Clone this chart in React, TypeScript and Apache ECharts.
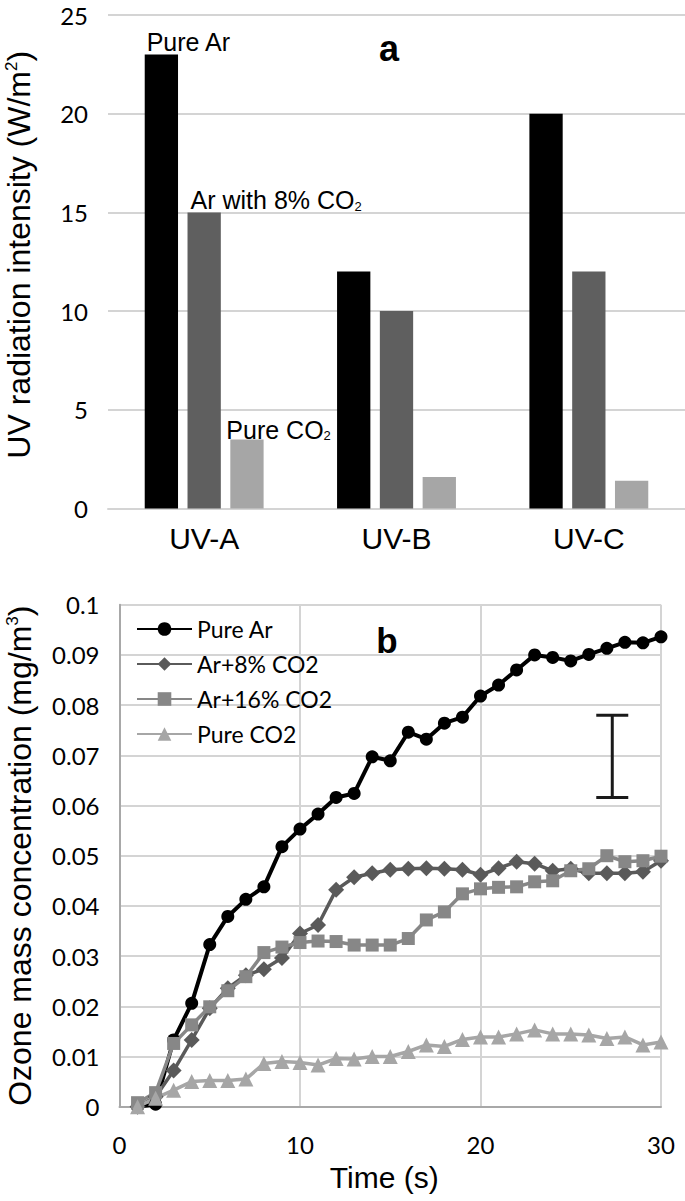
import React, { useEffect, useRef } from "react";
import * as echarts from "echarts";

// ---------- Panel a: UV radiation intensity ----------
const uvCategories = ["UV-A", "UV-B", "UV-C"];
const uvPureAr = [23, 12, 20];
const uvAr8CO2 = [15, 10, 12];
const uvPureCO2 = [3.5, 1.6, 1.4];

// ---------- Panel b: ozone mass concentration ----------
const times = [1, 2, 3, 4, 5, 6, 7, 8, 9, 10, 11, 12, 13, 14, 15, 16, 17, 18, 19, 20, 21, 22, 23, 24, 25, 26, 27, 28, 29, 30];
const ozPureAr = [0, 0.0005, 0.0133, 0.0206, 0.0323, 0.0379, 0.0413, 0.0438, 0.0518, 0.0553, 0.0583, 0.0616, 0.0624, 0.0697, 0.0689, 0.0746, 0.0732, 0.0764, 0.0776, 0.0818, 0.084, 0.087, 0.09, 0.0895, 0.0888, 0.0901, 0.0913, 0.0925, 0.0924, 0.0936];
const ozAr8CO2 = [0, 0.002, 0.0072, 0.0133, 0.0196, 0.0236, 0.0262, 0.0274, 0.0296, 0.0345, 0.0362, 0.0432, 0.0457, 0.0465, 0.0472, 0.0474, 0.0475, 0.0474, 0.0472, 0.0462, 0.0475, 0.0488, 0.0484, 0.047, 0.0474, 0.0465, 0.0465, 0.0465, 0.0468, 0.049];
const ozAr16CO2 = [0.0008, 0.0028, 0.0126, 0.0163, 0.0199, 0.0231, 0.0259, 0.0307, 0.0318, 0.0327, 0.033, 0.0329, 0.0322, 0.0322, 0.0322, 0.0335, 0.0372, 0.0388, 0.0424, 0.0434, 0.0437, 0.0438, 0.0448, 0.045, 0.047, 0.0474, 0.05, 0.0488, 0.049, 0.0499];
const ozPureCO2 = [0, 0.0017, 0.0033, 0.005, 0.0052, 0.0052, 0.0055, 0.0086, 0.009, 0.0088, 0.0083, 0.0096, 0.0095, 0.01, 0.01, 0.011, 0.0123, 0.012, 0.0134, 0.0139, 0.0139, 0.0145, 0.0153, 0.0145, 0.0145, 0.0143, 0.0136, 0.0139, 0.0123, 0.0129];
const errorBar = [[27.3, 0.0616, 0.078]]; // [time, low, high]

const legendNames = ["Pure Ar", "Ar+8% CO2", "Ar+16% CO2", "Pure CO2"];

const ARIAL = "'Liberation Sans', Arial, sans-serif";
const CALIBRI = "Lato, 'Liberation Sans', sans-serif";
const GRID = "#d4d4d4";
const AXIS = "#a8a8a8";

const subRich = {
  m: { fontFamily: ARIAL, fontSize: 25, lineHeight: 25, color: "#000" },
  sub: { fontFamily: ARIAL, fontSize: 13, lineHeight: 5, verticalAlign: "bottom", color: "#000" },
};

function barData(values: number[], labelText: string | null, dx: number, dy: number) {
  return values.map((v, i) => {
    if (i === 0 && labelText) {
      return {
        value: v,
        label: {
          show: true,
          position: "top",
          distance: 0,
          align: "left",
          verticalAlign: "bottom",
          offset: [dx, dy],
          formatter: labelText,
          rich: subRich,
        },
      };
    }
    return v;
  });
}

function lineData(values: number[]) {
  return times.map((t, i) => [t, values[i]]);
}

export default function App() {
  const ref = useRef<HTMLDivElement>(null);

  useEffect(() => {
    if (!ref.current) return;
    const chart = echarts.init(ref.current, null, { renderer: "svg" });

    const nameRich = {
      m: { fontFamily: ARIAL, fontSize: 32, lineHeight: 32, color: "#000" },
      sup: { fontFamily: ARIAL, fontSize: 17, lineHeight: 20, verticalAlign: "top", color: "#000" },
    };

    const option: any = {
      animation: false,
      backgroundColor: "#ffffff",
      grid: [
        { left: 108, top: 15, width: 577, height: 493.5, outerBoundsMode: "none" },
        { left: 119.5, top: 604.7, width: 541.5, height: 502, outerBoundsMode: "none" },
      ],
      legend: {
        data: legendNames,
        orient: "vertical",
        left: 131,
        top: 612.5,
        itemWidth: 55,
        itemHeight: 17,
        itemGap: 12,
        textStyle: { fontFamily: CALIBRI, fontSize: 23, color: "#000" },
        selectedMode: false,
      },
      xAxis: [
        {
          type: "category",
          gridIndex: 0,
          data: uvCategories,
          axisLine: { show: true, lineStyle: { color: GRID, width: 2 } },
          axisTick: { show: false },
          axisLabel: { fontFamily: ARIAL, fontSize: 30, color: "#000", margin: 15 },
          splitLine: { show: false },
        },
        {
          type: "value",
          gridIndex: 1,
          min: 0,
          max: 30,
          interval: 10,
          axisLine: { show: true, lineStyle: { color: AXIS, width: 2 } },
          axisTick: { show: false },
          axisLabel: { fontFamily: CALIBRI, fontSize: 24, color: "#000", margin: 26 },
          splitLine: { show: true, lineStyle: { color: GRID, width: 2 } },
          name: "Time (s)",
          nameLocation: "middle",
          nameGap: 56,
          nameTextStyle: { fontFamily: ARIAL, fontSize: 30, color: "#000", padding: [0, 12, 0, 0] },
        },
      ],
      yAxis: [
        {
          type: "value",
          gridIndex: 0,
          min: 0,
          max: 25,
          interval: 5,
          axisLine: { show: false },
          axisTick: { show: false },
          axisLabel: { fontFamily: CALIBRI, fontSize: 24, color: "#000", margin: 20 },
          splitLine: { show: true, lineStyle: { color: GRID, width: 2 } },
          name: "{m|UV radiation intensity (W/m}{sup|2}{m|)}",
          nameLocation: "middle",
          nameRotate: 90,
          nameGap: 73,
          nameTextStyle: { rich: nameRich, padding: [0, 0, 0, 14] },
        },
        {
          type: "value",
          gridIndex: 1,
          min: 0,
          max: 0.1,
          interval: 0.01,
          axisLine: { show: true, lineStyle: { color: AXIS, width: 2 } },
          axisTick: { show: false },
          axisLabel: { fontFamily: CALIBRI, fontSize: 24, color: "#000", margin: 20 },
          splitLine: { show: true, lineStyle: { color: GRID, width: 2 } },
          name: "{m|Ozone mass concentration (mg/m}{sup|3}{m|)}",
          nameLocation: "middle",
          nameRotate: 90,
          nameGap: 84,
          nameTextStyle: { rich: nameRich },
        },
      ],
      graphic: [
        {
          type: "text",
          x: 389,
          y: 48,
          style: { text: "a", fontFamily: ARIAL, fontWeight: "bold", fontSize: 36, fill: "#000", align: "center", verticalAlign: "middle" },
        },
        {
          type: "text",
          x: 387,
          y: 640,
          style: { text: "b", fontFamily: ARIAL, fontWeight: "bold", fontSize: 35, fill: "#000", align: "center", verticalAlign: "middle" },
        },
      ],
      series: [
        {
          name: "Pure Ar (UV)",
          type: "bar",
          xAxisIndex: 0,
          yAxisIndex: 0,
          barWidth: 33.3,
          barGap: "28.5%",
          itemStyle: { color: "#000000" },
          data: barData(uvPureAr, "{m|Pure Ar}", -14.7, 0),
        },
        {
          name: "Ar with 8% CO2 (UV)",
          type: "bar",
          xAxisIndex: 0,
          yAxisIndex: 0,
          barWidth: 33.3,
          barGap: "28.5%",
          itemStyle: { color: "#5f5f5f" },
          data: barData(uvAr8CO2, "{m|Ar with 8% CO}{sub|2}", -13.6, 0.5),
        },
        {
          name: "Pure CO2 (UV)",
          type: "bar",
          xAxisIndex: 0,
          yAxisIndex: 0,
          barWidth: 33.3,
          barGap: "28.5%",
          itemStyle: { color: "#a6a6a6" },
          data: barData(uvPureCO2, "{m|Pure CO}{sub|2}", -20.6, 2.6),
        },
        {
          name: "Pure Ar",
          type: "line",
          xAxisIndex: 1,
          yAxisIndex: 1,
          data: lineData(ozPureAr),
          symbol: "circle",
          symbolSize: 13,
          showAllSymbol: true,
          lineStyle: { color: "#000000", width: 4 },
          itemStyle: { color: "#000000" },
        },
        {
          name: "Ar+8% CO2",
          type: "line",
          xAxisIndex: 1,
          yAxisIndex: 1,
          data: lineData(ozAr8CO2),
          symbol: "diamond",
          symbolSize: 16,
          showAllSymbol: true,
          lineStyle: { color: "#5a5a5a", width: 3.5 },
          itemStyle: { color: "#5a5a5a" },
        },
        {
          name: "Ar+16% CO2",
          type: "line",
          xAxisIndex: 1,
          yAxisIndex: 1,
          data: lineData(ozAr16CO2),
          symbol: "rect",
          symbolSize: 13,
          showAllSymbol: true,
          lineStyle: { color: "#878787", width: 3.5 },
          itemStyle: { color: "#878787" },
        },
        {
          name: "Pure CO2",
          type: "line",
          xAxisIndex: 1,
          yAxisIndex: 1,
          data: lineData(ozPureCO2),
          symbol: "triangle",
          symbolSize: 15,
          showAllSymbol: true,
          lineStyle: { color: "#a6a6a6", width: 3.5 },
          itemStyle: { color: "#a6a6a6" },
        },
        {
          type: "custom",
          xAxisIndex: 1,
          yAxisIndex: 1,
          silent: true,
          data: errorBar,
          encode: { x: 0, y: [1, 2] },
          renderItem: (params: any, api: any) => {
            const top = api.coord([api.value(0), api.value(2)]);
            const bot = api.coord([api.value(0), api.value(1)]);
            const hw = 16;
            const style = { stroke: "#1a1a1a", lineWidth: 3 };
            return {
              type: "group",
              children: [
                { type: "line", shape: { x1: top[0], y1: top[1], x2: bot[0], y2: bot[1] }, style },
                { type: "line", shape: { x1: top[0] - hw, y1: top[1], x2: top[0] + hw, y2: top[1] }, style },
                { type: "line", shape: { x1: bot[0] - hw, y1: bot[1], x2: bot[0] + hw, y2: bot[1] }, style },
              ],
            };
          },
        },
      ],
    };

    chart.setOption(option);
    return () => chart.dispose();
  }, []);

  return <div ref={ref} style={{ position: "absolute", left: 0, top: 0, width: 685, height: 1201 }} />;
}
